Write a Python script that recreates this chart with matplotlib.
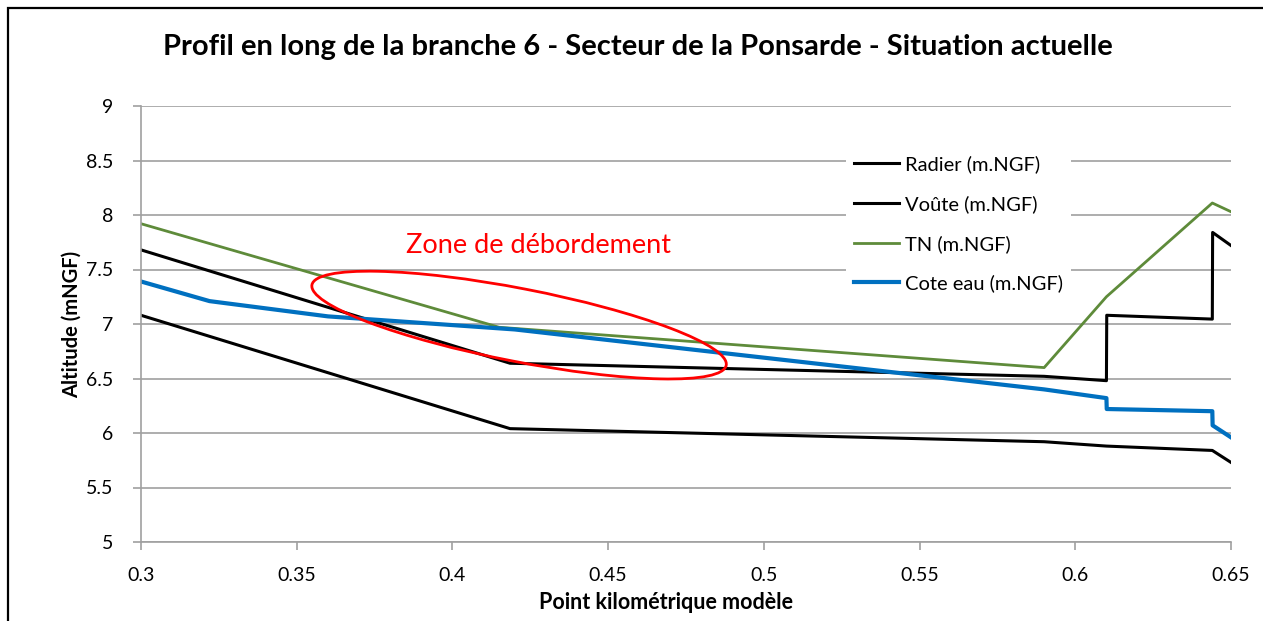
import matplotlib.pyplot as plt
import matplotlib.transforms as transforms
from matplotlib.patches import Ellipse, Rectangle

# Profils (PK en km, altitudes en m NGF)
pk_radier = [0.3, 0.4185, 0.59, 0.61, 0.644, 0.65]
radier = [7.08, 6.04, 5.92, 5.88, 5.84, 5.73]

pk_voute = [0.3, 0.4185, 0.59, 0.61, 0.6101, 0.644, 0.6441, 0.65]
voute = [7.68, 6.64, 6.52, 6.48, 7.08, 7.045, 7.84, 7.72]

pk_tn = [0.3, 0.415, 0.59, 0.61, 0.644, 0.65]
tn = [7.92, 6.97, 6.60, 7.25, 8.11, 8.03]

pk_eau = [0.3, 0.322, 0.36, 0.42, 0.59, 0.61, 0.6101, 0.644, 0.6441, 0.65]
cote_eau = [7.39, 7.21, 7.07, 6.95, 6.40, 6.32, 6.22, 6.20, 6.07, 5.96]

x_ticks = [0.3, 0.35, 0.4, 0.45, 0.5, 0.55, 0.6, 0.65]
y_ticks = [5, 5.5, 6, 6.5, 7, 7.5, 8, 8.5, 9]

plt.rcParams['font.family'] = ['Lato', 'DejaVu Sans']

fig = plt.figure(figsize=(12.63, 6.21), dpi=100)
ax = fig.add_axes([141 / 1263, 1 - 542 / 621, 1090 / 1263, 436 / 621])

# cadre de la zone de graphique
fig.patches.append(Rectangle((8 / 1263, -0.1), 1.2, 1.1 - 8 / 621,
                             transform=fig.transFigure, fill=False,
                             edgecolor='black', linewidth=1.6))

ax.plot(pk_radier, radier, color='black', lw=2.2, solid_joinstyle='round',
        label='Radier (m.NGF)')
ax.plot(pk_voute, voute, color='black', lw=2.2, solid_joinstyle='round',
        label='Voûte (m.NGF)')
ax.plot(pk_tn, tn, color='#5E8B3A', lw=2.0, solid_joinstyle='round',
        label='TN (m.NGF)')
ax.plot(pk_eau, cote_eau, color='#0070C0', lw=3.0, solid_joinstyle='round',
        label='Cote eau (m.NGF)')

# zone de débordement
trans = fig.dpi_scale_trans + transforms.ScaledTranslation(0.4214, 6.99, ax.transData)
ax.add_patch(Ellipse((0, 0), 4.22, 0.73, angle=-11, transform=trans,
                     fill=False, edgecolor='#FF0000', lw=2.0, zorder=5))
ax.text(0.4275, 7.72, 'Zone de débordement', color='#FF0000', fontsize=19.5,
        ha='center', va='center')

ax.set_xlim(0.3, 0.65)
ax.set_ylim(5, 9)
ax.set_xticks(x_ticks)
ax.set_xticklabels([f'{v:g}' for v in x_ticks])
ax.set_yticks(y_ticks)
ax.set_yticklabels([f'{v:g}' for v in y_ticks])
ax.grid(axis='y', color='#A0A0A0', lw=1.2)
ax.set_axisbelow(True)
for s in ['top', 'right']:
    ax.spines[s].set_visible(False)
for s in ['left', 'bottom']:
    ax.spines[s].set_color('#A0A0A0')
    ax.spines[s].set_linewidth(1.2)
ax.tick_params(axis='both', direction='out', length=6, width=1.2,
               color='#A0A0A0', labelsize=14)
ax.tick_params(axis='x', pad=12)
ax.tick_params(axis='y', pad=14)

ax.set_title('Profil en long de la branche 6 - Secteur de la Ponsarde - Situation actuelle',
             fontsize=21, fontweight='bold', pad=37, x=0.456)
ax.set_xlabel('Point kilométrique modèle', fontsize=15.5, fontweight='bold', labelpad=6)
ax.xaxis.label.set_x(0.4817)
ax.set_ylabel('Altitude (mNGF)', fontsize=14.5, fontweight='bold', labelpad=3)

leg = ax.legend(loc='upper left', bbox_to_anchor=(0.647, 0.905), frameon=True,
                fontsize=14.5, handlelength=2.2, handletextpad=0.3,
                labelspacing=1.08, borderaxespad=0, fancybox=False)
leg.get_frame().set_edgecolor('none')
leg.get_frame().set_facecolor('white')
leg.get_frame().set_alpha(1)

plt.savefig('out.png', dpi=100)
